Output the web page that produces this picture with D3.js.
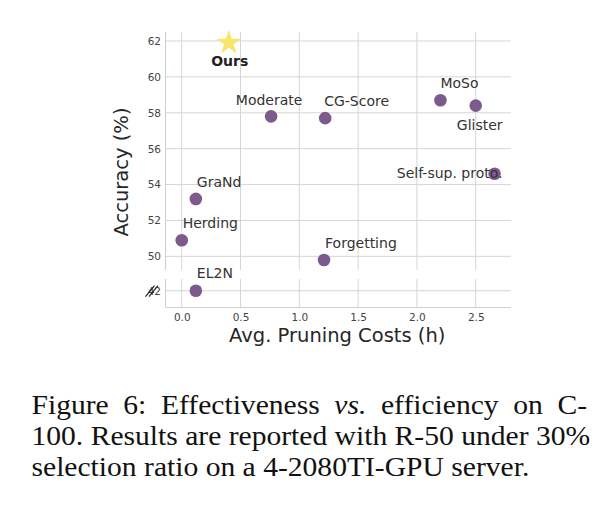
<!DOCTYPE html>
<html>
<head>
<meta charset="utf-8">
<script src="https://cdn.jsdelivr.net/npm/d3@7"></script>
<style>
  html, body { margin: 0; padding: 0; background: #fff; }
  svg { display: block; }
  .tick-label { font-family: "DejaVu Sans", sans-serif; font-size: 10.5px; fill: #444; }
  .axis-title { font-family: "DejaVu Sans", sans-serif; font-size: 19.5px; fill: #262626; }
  .pt-label { font-family: "DejaVu Sans", sans-serif; font-size: 14px; fill: #333; }
  .caption { font-family: "Liberation Serif", "Times New Roman", serif; font-size: 27px; fill: #111; }
</style>
</head>
<body>
<div id="chart"></div>
<script>
// Method names and their (cost in hours, accuracy %)
const methods = ["Ours", "Moderate", "CG-Score", "MoSo", "Glister", "Self-sup. proto.",
                 "GraNd", "Herding", "Forgetting", "EL2N"];
const costs = [0.40, 0.76, 1.22, 2.20, 2.50, 2.66, 0.12, 0.00, 1.21, 0.12];
const accuracies = [61.9, 57.8, 57.7, 58.7, 58.4, 54.6, 53.2, 50.9, 49.8, 42.0];

const xTicks = [0, 0.5, 1.0, 1.5, 2.0, 2.5];
const yTicksTop = [50, 52, 54, 56, 58, 60, 62];
const yTicksBottom = [42];

const captionLines = [
  ["Figure 6:", "Effectiveness", "<i>vs.</i>", "efficiency", "on", "C-"],
  ["100.", "Results", "are", "reported", "with", "R-50", "under", "30%"],
  ["selection", "ratio", "on", "a", "4-2080TI-GPU", "server."]
];

// label placement relative to each point (layout only)
const labelPlace = {
  "Ours":             { anchor: "middle", dx: 1,  dy: 23, bold: true },
  "Moderate":         { anchor: "middle", dx: -2, dy: -11 },
  "CG-Score":         { anchor: "start",  dx: -1, dy: -12 },
  "MoSo":             { anchor: "start",  dx: 0,  dy: -12 },
  "Glister":          { anchor: "middle", dx: 4,  dy: 24 },
  "Self-sup. proto.": { anchor: "end",    dx: 8,  dy: 4 },
  "GraNd":            { anchor: "start",  dx: 1,  dy: -12 },
  "Herding":          { anchor: "start",  dx: 1,  dy: -12 },
  "Forgetting":       { anchor: "start",  dx: 1,  dy: -12 },
  "EL2N":             { anchor: "start",  dx: 1,  dy: -12.5 }
};

const width = 603, height = 508;
const left = 165.5, right = 511;
const topPanel = { top: 32, bottom: 270 };
const botPanel = { top: 279, bottom: 307.5 };

const svg = d3.select("#chart").append("svg")
  .attr("width", width).attr("height", height)
  .attr("viewBox", `0 0 ${width} ${height}`);

const x = d3.scaleLinear().domain([-0.138, 2.8]).range([left, right]);
const yTop = d3.scaleLinear().domain([49.24, 62.5]).range([topPanel.bottom, topPanel.top]);
const yBot = d3.scaleLinear().domain([41.07, 42.65]).range([botPanel.bottom, botPanel.top]);
const y = (v) => (v < 46 ? yBot(v) : yTop(v));

const gridColor = "#d6d6d6";

// --- grid ---
const grid = svg.append("g");
[topPanel, botPanel].forEach((p) => {
  grid.selectAll(null).data(xTicks).enter().append("line")
    .attr("x1", (d) => x(d)).attr("x2", (d) => x(d))
    .attr("y1", p.top).attr("y2", p.bottom)
    .attr("stroke", gridColor).attr("stroke-width", 1);
});
grid.selectAll(null).data(yTicksTop).enter().append("line")
  .attr("x1", left).attr("x2", right)
  .attr("y1", (d) => yTop(d)).attr("y2", (d) => yTop(d))
  .attr("stroke", gridColor).attr("stroke-width", 1);
grid.selectAll(null).data(yTicksBottom).enter().append("line")
  .attr("x1", left).attr("x2", right)
  .attr("y1", (d) => yBot(d)).attr("y2", (d) => yBot(d))
  .attr("stroke", gridColor).attr("stroke-width", 1);

// --- spines (left for both panels, bottom for lower panel) ---
const spine = "#cfcfcf";
svg.append("line").attr("x1", left).attr("x2", left)
  .attr("y1", topPanel.top).attr("y2", topPanel.bottom)
  .attr("stroke", spine).attr("stroke-width", 1.1);
svg.append("line").attr("x1", left).attr("x2", left)
  .attr("y1", botPanel.top).attr("y2", botPanel.bottom)
  .attr("stroke", spine).attr("stroke-width", 1.1);
svg.append("line").attr("x1", left).attr("x2", right)
  .attr("y1", botPanel.bottom).attr("y2", botPanel.bottom)
  .attr("stroke", spine).attr("stroke-width", 1.1);

// --- axes ---
const xAxis = svg.append("g")
  .attr("transform", `translate(0,${botPanel.bottom + 3})`)
  .call(d3.axisBottom(x).tickValues(xTicks).tickFormat(d3.format(".1f")).tickSize(0));
const yAxisTop = svg.append("g")
  .attr("transform", `translate(${left - 1.5},0)`)
  .call(d3.axisLeft(yTop).tickValues(yTicksTop).tickFormat(d3.format("d")).tickSize(0));
const yAxisBot = svg.append("g")
  .attr("transform", `translate(${left - 1.5},0)`)
  .call(d3.axisLeft(yBot).tickValues(yTicksBottom).tickFormat(d3.format("d")).tickSize(0));
[xAxis, yAxisTop, yAxisBot].forEach((a) => {
  a.select(".domain").remove();
  a.selectAll("text").attr("class", "tick-label").attr("fill", null);
});

// broken-axis marks over the lower tick label
const bx = left - 20, by = yBot(42);
[0, 3.5].forEach((o) => {
  svg.append("line")
    .attr("x1", bx + o).attr("y1", by + 6)
    .attr("x2", bx + o + 9).attr("y2", by - 5)
    .attr("stroke", "#222").attr("stroke-width", 1.2);
});

// axis titles
svg.append("text").attr("class", "axis-title")
  .attr("x", (left + right) / 2 - 1).attr("y", 342)
  .attr("text-anchor", "middle").text("Avg. Pruning Costs (h)");
svg.append("text").attr("class", "axis-title")
  .attr("transform", `translate(128,172) rotate(-90)`)
  .attr("text-anchor", "middle").text("Accuracy (%)");

// --- points ---
const data = methods.map((m, i) => ({ name: m, cost: costs[i], acc: accuracies[i] }));

svg.append("g").selectAll("circle")
  .data(data.filter((d) => d.name !== "Ours"))
  .enter().append("circle")
  .attr("cx", (d) => x(d.cost)).attr("cy", (d) => y(d.acc))
  .attr("r", 6.3)
  .attr("fill", "#7d5a8c");

svg.append("g").selectAll("path")
  .data(data.filter((d) => d.name === "Ours"))
  .enter().append("path")
  .attr("d", d3.symbol(d3.symbolStar, 190))
  .attr("transform", (d) => `translate(${x(d.cost)},${y(d.acc)})`)
  .attr("fill", "#f9e46c");

svg.append("g").selectAll("text")
  .data(data).enter().append("text")
  .attr("class", "pt-label")
  .attr("x", (d) => x(d.cost) + labelPlace[d.name].dx)
  .attr("y", (d) => y(d.acc) + labelPlace[d.name].dy)
  .attr("text-anchor", (d) => labelPlace[d.name].anchor)
  .style("font-weight", (d) => (labelPlace[d.name].bold ? "bold" : "normal"))
  .style("fill", (d) => (labelPlace[d.name].bold ? "#222" : null))
  .text((d) => d.name);

// --- caption (justified lines) ---
const capLeft = 31.5, capRight = 587, capBaselines = [414, 445, 476];
const cap = svg.append("g");
const lineEls = captionLines.map((words, i) => {
  const t = cap.append("text").attr("class", "caption")
    .attr("x", 0).attr("y", capBaselines[i]);
  words.forEach((w, j) => {
    const italic = w.startsWith("<i>");
    t.append("tspan")
      .style("font-style", italic ? "italic" : "normal")
      .text((j > 0 ? " " : "") + w.replace(/<\/?i>/g, ""));
  });
  return t;
});
// horizontal scale from the last (unjustified) line
const lastW = lineEls[2].node().getComputedTextLength();
const sx = 498 / lastW;
cap.attr("transform", `translate(${capLeft},0) scale(${sx},1)`);
[0, 1].forEach((i) => {
  const t = lineEls[i];
  const natural = t.node().getComputedTextLength();
  const target = (capRight - capLeft) / sx;
  const gaps = captionLines[i].length - 1 + (i === 0 ? 1 : 0);
  t.style("word-spacing", `${Math.max(0, (target - natural) / gaps)}px`);
});
</script>
</body>
</html>
